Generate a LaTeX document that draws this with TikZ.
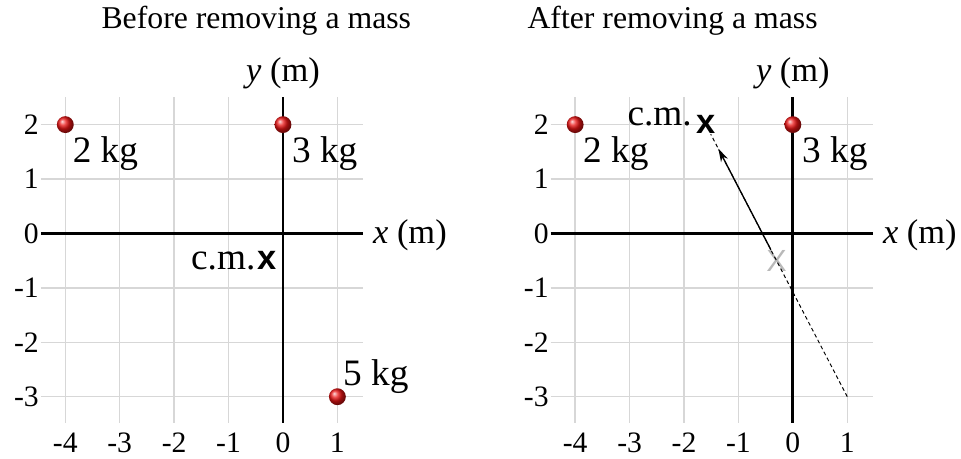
\documentclass[tikz,border=0pt]{standalone}
\usepackage{fontspec}
\setmainfont{Liberation Serif}
\newfontfamily\sansx{Liberation Sans}
\usetikzlibrary{arrows.meta,positioning}
\definecolor{GridGray}{RGB}{215,215,215}
\definecolor{OldGray}{RGB}{185,185,185}
\definecolor{BallRed}{RGB}{235,20,20}

\begin{document}
\begin{tikzpicture}[>={Stealth[length=7pt,width=4pt]},
  gridln/.style={draw=GridGray,line width=0.8pt},
  axisln/.style={line width=1.5pt},
  ball/.style={circle,inner sep=0pt,minimum size=0.31cm,shading=ball,ball color=BallRed},
  ticklbl/.style={inner sep=0pt,font=\fontsize{15.5}{16}\selectfont},
  masslbl/.style={inner sep=0pt,font=\fontsize{19.5}{20}\selectfont},
  axislbl/.style={inner sep=0pt,font=\fontsize{18}{19}\selectfont},
  titlelbl/.style={inner sep=0pt,font=\fontsize{16.6}{18}\selectfont},
  cmmark/.style={inner sep=0pt,font=\sansx\bfseries\fontsize{18}{20}\selectfont}]
\useasboundingbox (-5.2,-4.13) rectangle (12.46,4.29);
% grids, axes and tick labels of both panels
\foreach \p/\s in {A/0,B/9.37}{
  \begin{scope}[xshift=\s cm]
  \foreach \i in {-4,...,1}{\draw[gridln] (\i,-3.48)--(\i,2.5);
    \node[ticklbl] (xt\p\i) at (\i,-3.85) {\i};}
  \foreach \j in {-3,...,2}{\draw[gridln] (-4.45,\j)--(1.47,\j);
    \node[ticklbl,anchor=east] (yt\p\j) at (-4.48,\j) {\j};}
  \draw[axisln] (-4.45,0)--(1.47,0);\draw[axisln] (0,-3.48)--(0,2.5);
  \node[axislbl,anchor=base] (ylab\p) at (0,2.79) {\textit{y} (m)};
  \node[axislbl,anchor=base west] (xlab\p) at (1.65,-0.19) {\textit{x} (m)};
  \end{scope}}
\node[titlelbl,anchor=base] (titleA) at (-0.49,3.77) {Before removing a mass};
\node[titlelbl,anchor=base] (titleB) at (7.16,3.77) {After removing a mass};

% before
\node[ball] (mA1) at (-4,2) {};\node[ball] (mA2) at (0,2) {};\node[ball] (mA3) at (1,-3) {};
\node[masslbl,anchor=base west] (kA1) at (-3.87,1.30) {2 kg};
\node[masslbl,anchor=base west] (kA2) at (0.16,1.30) {3 kg};
\node[masslbl,anchor=base west] (kA3) at (1.10,-2.79) {5 kg};
\node[cmmark] (cmA) at (-0.3,-0.5) {x};
\node[masslbl,left=0.5pt of cmA] (cmlA) {c.m.};

% after
\begin{scope}[xshift=9.37cm]
\node[ball] (mB1) at (-4,2) {};\node[ball] (mB2) at (0,2) {};
\node[masslbl,anchor=base west] (kB1) at (-3.86,1.30) {2 kg};
\node[masslbl,anchor=base west] (kB2) at (0.165,1.30) {3 kg};
\coordinate (gone) at (1,-3);\coordinate (tip) at (-1.37,1.56);
\node[cmmark,text=OldGray,font=\sansx\fontsize{16}{17}\selectfont] (cmold) at (-0.3,-0.5) {X};
\node[cmmark] (cmnew) at (-1.6,2) {x};
\node[masslbl,anchor=base east] (cmlB) at (-1.85,1.99) {c.m.};
\draw[line width=0.5pt,dash pattern=on 2pt off 1.5pt] (gone)--(cmnew);
\draw[->,line width=0.7pt] (cmold)--(tip);
\end{scope}
\end{tikzpicture}
\end{document}
